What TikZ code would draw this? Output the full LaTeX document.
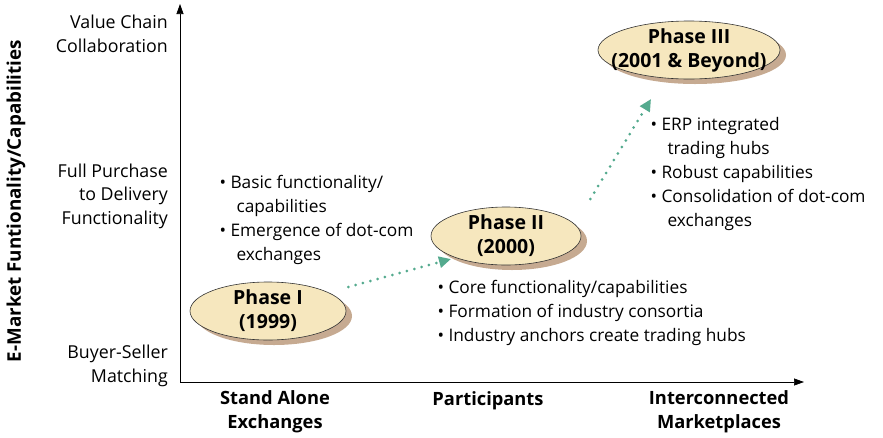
\documentclass[tikz,border=0pt]{standalone}
\usepackage{fontspec}
\setmainfont{Open Sans}
\usepackage{xcolor}
\definecolor{phasefill}{RGB}{246,231,190}
\definecolor{phaseshadow}{RGB}{198,170,145}
\definecolor{dotteal}{RGB}{84,170,142}
\usetikzlibrary{shapes.geometric,positioning,arrows.meta,shadows,calc}

\begin{document}
\begin{tikzpicture}[x=1pt,y=-1pt,
	phase/.style={
	ellipse,              % shape
	draw=black!80,        % thin dark border
	line width=0.6pt,
	fill=phasefill,       % pale yellow fill
	font=\bfseries\fontsize{19.5}{24}\selectfont,
	align=center,
	minimum width=#1,
	minimum height=58pt,
	inner xsep=-14pt,     % keep the wide label from blowing up the ellipse
	inner ysep=-3pt,
	drop shadow={shadow xshift=6pt,shadow yshift=-5pt,fill=phaseshadow,opacity=1}
	},
	bullets/.style={anchor=north west,align=left,
	font=\fontsize{17.3}{24}\selectfont},
	ticklab/.style={anchor=east,align=right,inner sep=0pt,
	font=\fontsize{17.8}{23.5}\selectfont},
	axislab/.style={align=center,font=\bfseries\fontsize{18.3}{24}\selectfont},
	progress/.style={dotteal,line width=3pt,dash pattern=on 0pt off 7.6pt,line cap=round,
	-{Triangle[length=12pt,width=11pt,fill=dotteal]}}
	]
	\useasboundingbox (0,0) rectangle (883,437);

	% axes
	\coordinate (origin) at (180,382);
	\coordinate (ytop) at (180,4);
	\coordinate (xend) at (804,382);
	\draw[line width=0.7pt,-{Triangle[length=10pt,width=7pt]}] (origin) -- (ytop);
	\draw[line width=0.7pt,-{Triangle[length=10pt,width=7pt]}] (origin) -- (xend);

	% axis titles
	\node[axislab,rotate=90,font=\bfseries\fontsize{18.8}{24}\selectfont] (ytitle) at (16,201) {E-Market Funtionality/Capabilities};
	\node[ticklab] (vcc) at (168,34) {Value Chain\\Collaboration};
	\node[ticklab] (fpd) at (168,196) {Full Purchase\\to Delivery\\Functionality};
	\node[ticklab] (bsm) at (168,366) {Buyer-Seller\\Matching};
	\node[axislab] (standalone) at (275,412) {Stand Alone\\Exchanges};
	\node[axislab] (participants) at (488,401) {Participants};
	\node[axislab] (interconn) at (719,412) {Interconnected\\Marketplaces};

	% phases
	\node[phase=156pt] (phaseone) at (268,311) {Phase I\\(1999)};
	\node[phase=150pt] (phasetwo) at (506,236) {Phase II\\(2000)};
	\node[phase=182pt] (phasethree) at (689,50) {Phase III\\(2001 \& Beyond)};

	% dotted arrows between phases
	\coordinate (nearphasetwo) at (451,259);
	\coordinate (nearphasethree) at (651,99);
	\draw[progress] ($(phaseone.east)+(2,-24)$) -- (nearphasetwo);
	\draw[progress] ($(phasetwo.east)+(9,-37)$) -- (nearphasethree);

	% bullet lists
	\node[bullets] (listone) at (216,172) {%
		\textbullet\ Basic functionality/\\
		\hspace*{17pt}capabilities\\
		\textbullet\ Emergence of dot-com\\
		\hspace*{17pt}exchanges};
	\node[bullets] (listtwo) at (434,277) {%
		\textbullet\ Core functionality/capabilities\\
		\textbullet\ Formation of industry consortia\\
		\textbullet\ Industry anchors create trading hubs};
	\node[bullets] (listthree) at (647,114) {%
		\textbullet\ ERP integrated\\
		\hspace*{17pt}trading hubs\\
		\textbullet\ Robust capabilities\\
		\textbullet\ Consolidation of dot-com\\
		\hspace*{17pt}exchanges};
\end{tikzpicture}
\end{document}
